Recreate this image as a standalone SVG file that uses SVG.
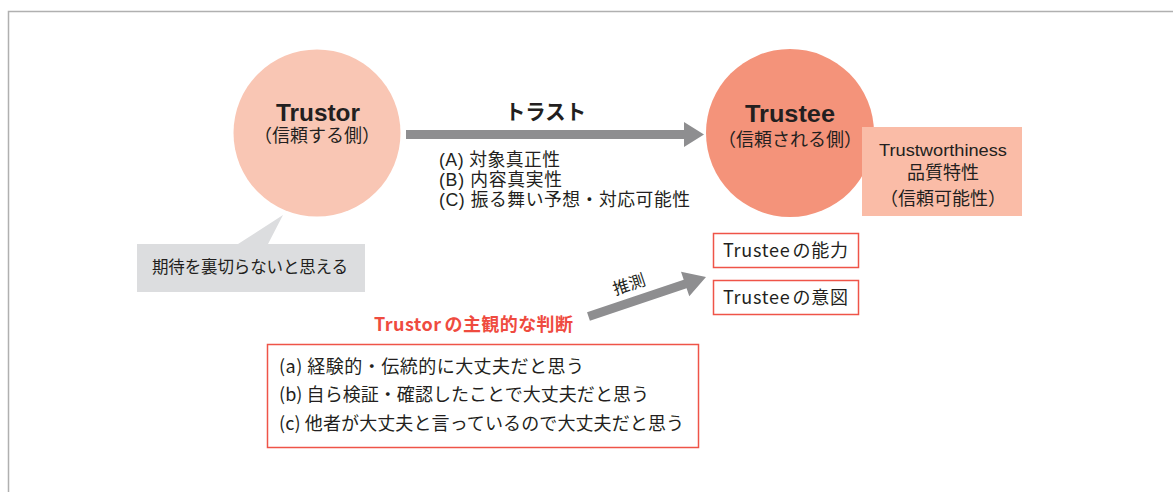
<svg xmlns="http://www.w3.org/2000/svg" width="1173" height="492" viewBox="0 0 1173 492">
<style>
text{font-family:"Noto Sans CJK JP","Noto Sans",sans-serif;fill:#231f20}
.b{font-weight:bold}
.s18{font-size:18px}
.lib{font-family:"Liberation Sans","Noto Sans CJK JP",sans-serif}
.item{font-family:"Liberation Sans","Noto Sans CJK JP",sans-serif;font-size:17.8px}
.title{font-family:"Liberation Sans","Noto Sans CJK JP",sans-serif;font-size:24px;font-weight:bold}
.red{fill:#ef4b3f}
.rbox{fill:#fff;stroke:#ef5448;stroke-width:1.5}
</style>
<rect width="1173" height="492" fill="#fff"/>
<path d="M8.5,492 V11.5 H1173" fill="none" stroke="#b0b0b0" stroke-width="1.5"/>
<g id="connectors">
<path d="M406,130 H684 V122 L704,134.5 L684,147 V139 H406 Z" fill="#8e8e90"/>
<text x="505" y="119" class="b" font-size="21" textLength="81" lengthAdjust="spacingAndGlyphs">トラスト</text>
<g transform="translate(706,277) rotate(-18.6)">
<path d="M-124,-4.5 H-22 V-13 L0,0 L-22,13 V4.5 H-124 Z" fill="#8e8e90"/>
</g>
<text x="631" y="290" font-size="16.5" transform="rotate(-18.6 631 290)" text-anchor="middle">推測</text>
</g>
<g id="trustor">
<circle cx="317" cy="133" r="83.5" fill="#f9c6b4"/>
<text x="276" y="120.5" class="title" textLength="84" lengthAdjust="spacingAndGlyphs">Trustor</text>
<text x="317" y="142" class="lib s18" text-anchor="middle">（信頼する側）</text>
</g>
<g id="trustee">
<circle cx="790" cy="133" r="84" fill="#f4937a"/>
<text x="745" y="121.5" class="title" font-size="25" textLength="90" lengthAdjust="spacingAndGlyphs">Trustee</text>
<text x="790" y="146" class="lib s18" text-anchor="middle">（信頼される側）</text>
</g>
<g id="trustworthiness">
<rect x="862" y="127" width="160" height="89" fill="#fabca7"/>
<text x="879" y="156" class="lib" font-size="17" textLength="128" lengthAdjust="spacingAndGlyphs">Trustworthiness</text>
<text x="943" y="179" class="lib s18" text-anchor="middle">品質特性</text>
<text x="943" y="205" class="lib s18" text-anchor="middle">（信頼可能性）</text>
</g>
<g id="trust-items">
<text x="439" y="166" class="item" textLength="121">(A) 対象真正性</text>
<text x="439" y="186" class="item" textLength="123">(B) 内容真実性</text>
<text x="439" y="206" class="item" textLength="251">(C) 振る舞い予想・対応可能性</text>
</g>
<g id="expectation">
<path d="M137,244 H238 L283,215 L268,244 H365 V292 H137 Z" fill="#dcdddf"/>
<text x="152" y="273" font-size="16.5" textLength="196">期待を裏切らないと思える</text>
</g>
<g id="ability">
<rect x="713.5" y="233.5" width="145" height="34" class="rbox"/>
<text x="723" y="257" class="s18" textLength="125">Trustee<tspan dx="2">の能力</tspan></text>
</g>
<g id="intent">
<rect x="713.5" y="280.5" width="145" height="34" class="rbox"/>
<text x="723" y="304" class="s18" textLength="125">Trustee<tspan dx="2">の意図</tspan></text>
</g>
<g id="judgement">
<text x="374" y="331" class="b red" font-size="18" textLength="199">Trustor<tspan dx="3">の主観的な判断</tspan></text>
<rect x="267.5" y="344.5" width="431" height="103" class="rbox"/>
<text x="279" y="373" class="s18" textLength="305">(a) 経験的・伝統的に大丈夫だと思う</text>
<text x="279" y="401" class="s18" textLength="370">(b) 自ら検証・確認したことで大丈夫だと思う</text>
<text x="279" y="430" class="s18" textLength="405">(c) 他者が大丈夫と言っているので大丈夫だと思う</text>
</g>
</svg>
